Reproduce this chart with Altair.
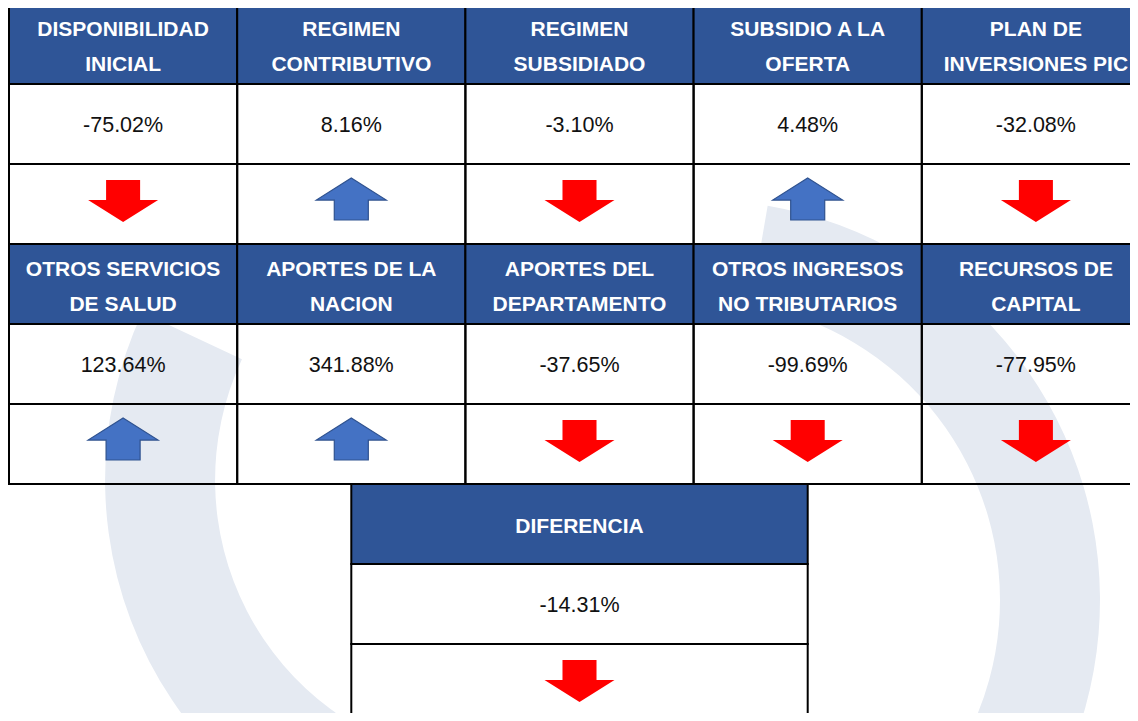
import altair as alt
import pandas as pd
import numpy as np

# ---- data ----
row1_labels = ["DISPONIBILIDAD\nINICIAL", "REGIMEN\nCONTRIBUTIVO", "REGIMEN\nSUBSIDIADO",
               "SUBSIDIO A LA\nOFERTA", "PLAN DE\nINVERSIONES PIC"]
row1_values = [-75.02, 8.16, -3.10, 4.48, -32.08]
row2_labels = ["OTROS SERVICIOS\nDE SALUD", "APORTES DE LA\nNACION", "APORTES DEL\nDEPARTAMENTO",
               "OTROS INGRESOS\nNO TRIBUTARIOS", "RECURSOS DE\nCAPITAL"]
row2_values = [123.64, 341.88, -37.65, -99.69, -77.95]
total_label = "DIFERENCIA"
total_value = -14.31

# layout grid (in column / row units)
block_rows = [0, 3]
total_cols = [1.5, 3.5]
total_row = 6

# faint background watermark (ring pieces: centre in grid units, radii px, angles rad)
wm_col = [2.152, 3.028]
wm_row = [5.95, 7.45]
wm_r_in = [285, 300]
wm_r_out = [395, 400]
wm_t0 = [3.32, 0.17]
wm_t1 = [5.15, 3.14]

# ---- build tables ----
cells = []
for r0, labels, values in zip(block_rows, [row1_labels, row2_labels], [row1_values, row2_values]):
    for i, (lab, val) in enumerate(zip(labels, values)):
        cells.append(dict(label=lab, value=val, c0=i, c1=i + 1, r0=r0))
cells.append(dict(label=total_label, value=total_value, c0=total_cols[0], c1=total_cols[1], r0=total_row))
df = pd.DataFrame(cells)
W, H = 1122, 705
COLW, ROWH = 228.2, 80.0
LINE_H = 35

nlines = df.label.str.count("\n") + 1
df["cx"] = (df.c0 + df.c1) / 2
df["h0"] = df.r0
df["h1"] = df.r0 + 1
df["v1"] = df.r0 + 2
df["a1"] = df.r0 + 3
df["hc"] = df.r0 + 0.5 - (nlines - 1) * (LINE_H / 2) / ROWH
df["vc"] = df.r0 + 1.5
df["ac"] = df.r0 + 2.5
df["txt"] = df.value.map(lambda v: f"{v:.2f}%")
df["dir"] = np.where(df.value > 0, "up", "down")

wm = pd.DataFrame(dict(col=wm_col, row=wm_row, rin=wm_r_in, rout=wm_r_out, t0=wm_t0, t1=wm_t1))

X0 = -1 / COLW
X1 = X0 + W / COLW
Y0 = 4 / ROWH
Y1 = Y0 + H / ROWH
xs = alt.Scale(domain=[X0, X1], nice=False, zero=False)
ys = alt.Scale(domain=[Y0, Y1], nice=False, zero=False, reverse=True)

base = alt.Chart(df)

watermark = alt.Chart(wm).mark_arc(color="#E5EAF2", clip=True).encode(
    x=alt.X("col:Q", scale=xs, axis=None),
    y=alt.Y("row:Q", scale=ys, axis=None),
    theta=alt.Theta("t0:Q", scale=None, stack=None),
    theta2="t1:Q",
    radius=alt.Radius("rout:Q", scale=None),
    radius2="rin:Q",
)

header = base.mark_rect(fill="#2F5597", stroke="black", strokeWidth=2, clip=True).encode(
    x=alt.X("c0:Q", scale=xs, axis=None), x2="c1:Q",
    y=alt.Y("h0:Q", scale=ys, axis=None), y2="h1:Q",
)
valcell = base.mark_rect(fillOpacity=0, stroke="black", strokeWidth=2, clip=True).encode(
    x=alt.X("c0:Q", scale=xs, axis=None), x2="c1:Q",
    y=alt.Y("h1:Q", scale=ys, axis=None), y2="v1:Q",
)
arrcell = base.mark_rect(fillOpacity=0, stroke="black", strokeWidth=2, clip=True).encode(
    x=alt.X("c0:Q", scale=xs, axis=None), x2="c1:Q",
    y=alt.Y("v1:Q", scale=ys, axis=None), y2="a1:Q",
)

htext = base.mark_text(align="center", baseline="middle", lineBreak="\n", lineHeight=LINE_H,
                       font="Liberation Sans", fontWeight="bold", fontSize=21,
                       color="white", dy=3).encode(
    x=alt.X("cx:Q", scale=xs, axis=None),
    y=alt.Y("hc:Q", scale=ys, axis=None),
    text="label:N",
)
vtext = base.mark_text(align="center", baseline="middle",
                       font="Liberation Sans", fontSize=21.5,
                       color="#111111", dy=2).encode(
    x=alt.X("cx:Q", scale=xs, axis=None),
    y=alt.Y("vc:Q", scale=ys, axis=None),
    text="txt:N",
)

down_path = "M -0.486 -0.686 L 0.486 -0.686 L 0.486 -0.116 L 1 -0.116 L 0 0.514 L -1 -0.116 L -0.486 -0.116 Z"
up_path = "M 0 -0.743 L 1 -0.113 L 0.486 -0.113 L 0.486 0.457 L -0.486 0.457 L -0.486 -0.113 L -1 -0.113 Z"

down_arrows = base.transform_filter(alt.datum.dir == "down").mark_point(
    shape=down_path, size=4900, filled=True, fill="#FF0000", strokeOpacity=0, opacity=1).encode(
    x=alt.X("cx:Q", scale=xs, axis=None),
    y=alt.Y("ac:Q", scale=ys, axis=None),
)
up_arrows = base.transform_filter(alt.datum.dir == "up").mark_point(
    shape=up_path, size=4900, filled=True, fill="#4472C4", stroke="#2F528F", strokeWidth=1.2,
    opacity=1).encode(
    x=alt.X("cx:Q", scale=xs, axis=None),
    y=alt.Y("ac:Q", scale=ys, axis=None),
)

chart = alt.layer(
    watermark, header, valcell, arrcell, htext, vtext, down_arrows, up_arrows
).properties(
    width=W, height=H, padding=0, autosize="none", background="white"
).configure_view(stroke=None)

chart.save("out.html", embed_options={"renderer": "svg", "actions": False})
